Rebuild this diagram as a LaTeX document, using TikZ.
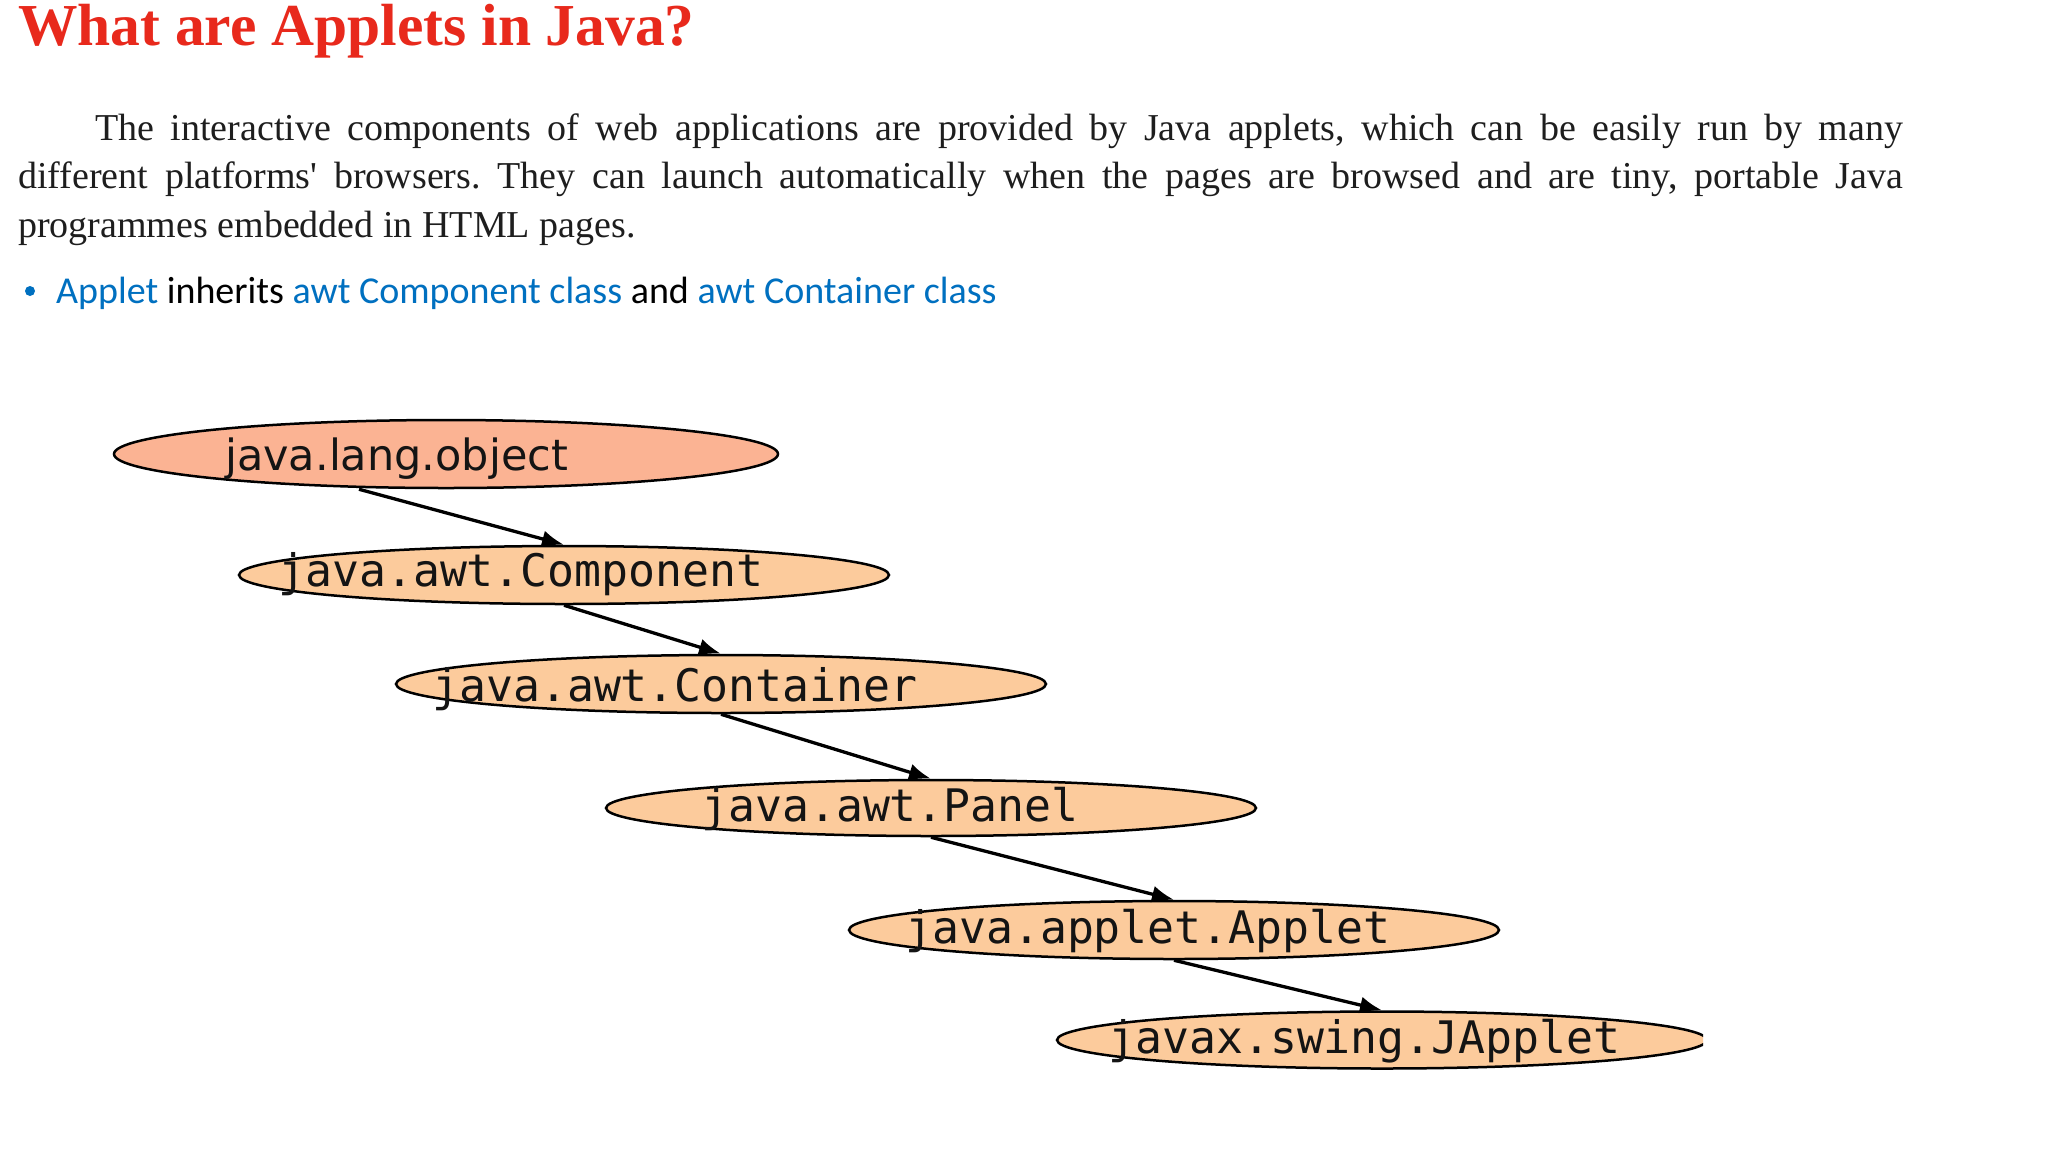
\documentclass[tikz,border=0pt]{standalone}
\usepackage{fontspec}
\setmainfont{Liberation Serif}
\newfontfamily\carlito{Carlito}
\newfontfamily\dvsans{DejaVu Sans}
\newfontfamily\dvmono{DejaVu Sans Mono}
\usetikzlibrary{shapes.geometric,arrows.meta}
\frenchspacing
\definecolor{titlered}{HTML}{E8291C}
\definecolor{bulletblue}{HTML}{0070C0}
\definecolor{salmon}{HTML}{FBB393}
\definecolor{peach}{HTML}{FCCB9C}
\definecolor{paratext}{HTML}{1E1E1E}
\tikzset{
  ell/.style={ellipse, draw=black, line width=2.5pt, inner sep=0pt, minimum width=650pt, minimum height=58pt, fill=peach},
  lbl/.style={anchor=base west, inner sep=0pt, font=\dvmono\fontsize{44.8}{50}\selectfont, text=black!92},
  arr/.style={line width=3.3pt, -{Latex[length=22pt,width=17pt]}},
  paraline/.style={anchor=base west, inner sep=0pt, font=\fontsize{38}{46}\selectfont, text=paratext},
}
\begin{document}
\begin{tikzpicture}[x=1pt,y=-1pt]
\fill[white] (0,0) rectangle (2048,1152);
\useasboundingbox (0,0) rectangle (2048,1152);

% title
\node[anchor=base west, inner sep=0pt, font=\bfseries\fontsize{59.5}{70}\selectfont, text=titlered] (title) at (18,45) {What are Applets in Java?};

% paragraph
\node[paraline] (para1) at (18,140) {\makebox[1885pt][s]{\hspace*{77pt}The interactive components of web applications are provided by Java applets, which can be easily run by many}};
\node[paraline] (para2) at (18,188.5) {\makebox[1885pt][s]{different platforms\textquotesingle{} browsers. They can launch automatically when the pages are browsed and are tiny, portable Java}};
\node[paraline] (para3) at (18,237) {programmes embedded in HTML pages.};

% bullet
\node[circle, fill=bulletblue, inner sep=0pt, minimum size=10pt] (dot) at (30,291) {};
\node[anchor=base west, inner sep=0pt, font=\carlito\fontsize{38}{46}\selectfont] (bullet) at (56,303)
  {\textcolor{bulletblue}{Applet} inherits \textcolor{bulletblue}{awt Component class} and \textcolor{bulletblue}{awt Container class}};

% ellipses
\node[ell, fill=salmon, minimum width=664pt, minimum height=68pt] (obj) at (446,454) {};
\node[ell] (comp) at (564,575) {};
\node[ell] (cont) at (721,684) {};
\node[ell, minimum height=56pt] (panel) at (931,808) {};
\node[ell] (applet) at (1174,930) {};
\begin{scope}
\clip (0,0) rectangle (1703,1152);
\node[ell, minimum height=57pt] (japplet) at (1382,1040) {};
\end{scope}

% labels
\node[lbl, font=\dvsans\fontsize{43}{50}\selectfont] (objt) at (225,470) {java.lang.object};
\node[lbl] (compt) at (278,586) {java.awt.Component};
\node[lbl] (contt) at (432,701) {java.awt.Container};
\node[lbl] (panelt) at (701,821) {java.awt.Panel};
\node[lbl] (applett) at (905,943) {java.applet.Applet};
\node[lbl] (jappt) at (1108,1053) {javax.swing.JApplet};

% arrows
\draw[arr] ([xshift=-87pt]obj.south) -- (comp.north);
\draw[arr] (comp.south) -- (cont.north);
\draw[arr] (cont.south) -- (panel.north);
\draw[arr] (panel.south) -- (applet.north);
\draw[arr] (applet.south) -- (japplet.north);
\end{tikzpicture}
\end{document}
